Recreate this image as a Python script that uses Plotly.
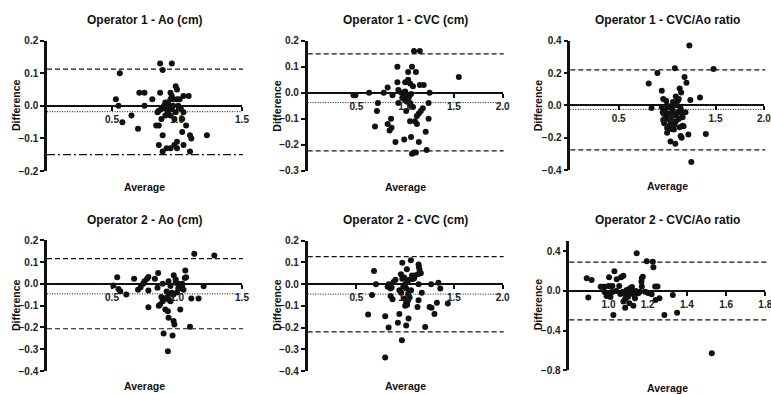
import plotly.graph_objects as go

# ---------------- data ----------------
titles = ["Operator 1 - Ao (cm)", "Operator 1 - CVC (cm)", "Operator 1 - CVC/Ao ratio",
          "Operator 2 - Ao (cm)", "Operator 2 - CVC (cm)", "Operator 2 - CVC/Ao ratio"]

p1_avg = [0.87, 0.96, 0.89, 0.56, 0.53, 0.55, 0.58, 0.65, 0.70, 0.71, 0.75, 0.75, 0.81, 0.87, 0.84, 0.86,
          0.89, 0.86, 0.89, 0.92, 0.95, 0.98, 1.0, 1.0, 1.05, 1.10, 1.10, 1.11, 1.23, 1.07, 1.04, 1.04,
          0.98, 0.88, 1.05, 1.09, 0.99, 1.0, 0.95, 0.96, 0.95, 0.97, 1.0, 0.91, 0.94, 0.88, 0.86, 0.92,
          0.96, 0.95, 1.03, 1.05, 0.90, 0.93, 0.97, 1.01, 0.93, 0.99, 0.85, 1.02, 0.91]
p1_diff = [0.13, 0.13, 0.11, 0.10, 0.02, 0.0, -0.05, -0.03, -0.07, 0.04, 0.04, 0.0, 0.02, 0.04, -0.06, -0.06,
           -0.09, -0.12, -0.14, -0.13, -0.13, -0.12, -0.11, -0.13, -0.12, -0.14, -0.09, -0.10, -0.09, -0.06, -0.08, -0.04,
           -0.04, -0.04, 0.03, 0.03, 0.06, 0.05, 0.04, 0.03, 0.02, 0.02, 0.02, 0.01, 0.0, -0.01, -0.015, -0.01,
           -0.01, -0.03, -0.01, -0.02, 0.0, 0.01, 0.0, 0.0, -0.02, -0.02, -0.02, 0.02, -0.03]

p2_avg = [1.09, 1.15, 1.55, 0.92, 1.07, 1.03, 1.11, 0.92, 1.0, 1.03, 1.05, 0.82, 0.93, 1.15, 1.19, 1.08,
          0.63, 0.78, 1.25, 0.47, 0.49, 0.87, 1.0, 0.99, 1.02, 1.03, 1.0, 1.02, 1.05, 0.93, 0.72, 1.01,
          0.71, 1.08, 1.24, 1.10, 1.12, 1.14, 1.16, 1.18, 1.24, 0.855, 0.82, 0.84, 0.86, 0.69, 1.05, 1.12,
          1.21, 0.90, 0.99, 1.06, 1.14, 1.22, 1.07, 1.09, 1.11, 0.96, 1.06, 1.04, 1.06, 0.97]
p2_diff = [0.16, 0.16, 0.06, 0.10, 0.10, 0.08, 0.08, 0.04, 0.04, 0.05, 0.035, 0.02, 0.01, 0.03, 0.03, 0.025,
           0.0, 0.0, 0.0, -0.01, -0.01, -0.01, 0.005, -0.01, -0.02, -0.025, -0.03, -0.035, -0.04, -0.04, -0.04, -0.07,
           -0.07, -0.055, -0.04, -0.11, -0.09, -0.08, -0.07, -0.06, -0.10, -0.10, -0.12, -0.145, -0.135, -0.13, -0.11, -0.12,
           -0.15, -0.19, -0.18, -0.17, -0.19, -0.22, -0.235, -0.23, -0.23, 0.0, -0.005, -0.015, -0.05, -0.02]

p3_avg = [1.23, 1.08, 1.48, 0.90, 0.81, 1.18, 1.20, 0.945, 1.13, 1.145, 1.34, 1.24, 0.84, 1.40, 1.22, 1.14,
          1.15, 1.035, 1.085, 1.25, 0.945, 0.98, 0.97, 1.0, 1.04, 1.075, 1.09, 1.14, 1.16, 1.19, 1.16, 1.13,
          1.17, 1.06, 1.02, 0.99, 1.09, 1.11, 1.07, 1.01, 1.04, 1.12, 0.955, 1.01, 0.96, 1.0, 1.05, 1.10,
          1.12, 1.03, 0.98, 1.05, 1.09, 1.03, 1.12, 1.06, 1.0, 1.07, 0.96, 1.15]
p3_diff = [0.37, 0.23, 0.225, 0.20, 0.135, 0.175, 0.14, 0.09, 0.105, 0.08, 0.048, 0.033, -0.016, -0.177, -0.18, -0.19,
           -0.20, -0.224, -0.238, -0.35, -0.012, -0.064, -0.11, -0.14, -0.146, -0.12, -0.06, -0.02, -0.074, -0.043, -0.126, -0.136,
           -0.13, -0.033, -0.012, 0.029, 0.054, 0.029, 0.008, -0.085, -0.095, -0.085, -0.043, -0.054, 0.04, 0.0, -0.02, 0.0,
           -0.04, -0.05, -0.03, -0.07, -0.10, -0.12, 0.04, 0.02, -0.17, -0.15, -0.09, -0.05]

p4_avg = [1.133, 1.287, 0.54, 0.51, 0.55, 0.564, 0.61, 0.67, 0.70, 0.72, 0.74, 0.75, 0.77, 0.78, 0.78, 0.78,
          0.83, 0.855, 0.85, 0.89, 0.975, 0.935, 0.99, 1.064, 1.06, 1.07, 1.01, 1.02, 1.03, 1.05, 1.01, 1.04,
          1.11, 1.166, 1.205, 1.10, 1.025, 0.88, 0.89, 0.87, 0.86, 0.92, 0.935, 0.95, 0.91, 0.93, 0.935, 0.974,
          0.98, 0.897, 0.966, 0.93, 0.96, 0.97, 0.94, 0.95, 1.0, 0.92, 0.99, 1.04]
p4_diff = [0.138, 0.13, 0.03, -0.008, -0.023, -0.034, -0.049, 0.023, -0.027, -0.015, 0.0, 0.012, 0.024, 0.032, -0.03, -0.107,
           0.023, 0.05, -0.018, 0.0, 0.04, 0.012, 0.02, 0.061, 0.027, 0.03, 0.0, -0.01, -0.02, -0.027, -0.02, 0.0,
           -0.067, -0.067, -0.011, -0.197, -0.118, -0.06, -0.08, -0.095, -0.10, -0.064, -0.072, -0.08, -0.118, -0.126, -0.156, -0.171,
           -0.187, -0.228, -0.237, -0.309, -0.041, -0.05, -0.045, -0.01, -0.04, -0.035, 0.005, -0.01]

p5_avg = [1.058, 0.97, 0.68, 1.137, 1.14, 1.147, 1.017, 0.956, 1.07, 1.10, 1.13, 1.16, 0.70, 0.66, 0.62, 0.795,
          0.83, 0.82, 0.83, 0.85, 0.86, 0.88, 0.90, 0.87, 0.85, 0.94, 0.94, 0.925, 1.01, 1.034, 0.966, 0.795,
          1.137, 1.266, 1.34, 1.36, 1.325, 1.27, 1.25, 1.30, 1.437, 1.205, 1.126, 1.137, 1.17, 1.06, 0.99, 1.01,
          1.0, 1.02, 1.03, 1.045, 1.03, 0.98, 1.0, 1.02, 1.04, 1.07, 1.09, 0.97, 0.99, 1.01, 0.96]
p5_diff = [0.11, 0.098, 0.06, 0.09, 0.08, 0.068, 0.068, 0.046, 0.04, 0.04, 0.045, 0.05, 0.0, -0.05, -0.14, -0.148,
           -0.2, -0.012, 0.0, -0.02, -0.015, 0.01, 0.02, -0.07, -0.055, -0.028, -0.138, -0.178, -0.19, -0.158, -0.258, -0.338,
           0.0, 0.0, 0.006, -0.02, -0.086, -0.109, -0.105, -0.138, -0.089, -0.197, -0.105, -0.074, -0.04, -0.028, -0.066, -0.086,
           -0.1, -0.095, -0.046, -0.06, -0.074, -0.012, 0.0, 0.01, 0.02, 0.022, 0.026, 0.025, 0.03, -0.02, -0.04]

p6_avg = [1.144, 1.195, 1.226, 1.229, 0.889, 0.914, 0.897, 1.003, 1.03, 1.042, 1.064, 1.076, 0.96, 0.97, 0.98, 1.0,
          1.01, 1.02, 0.99, 1.01, 1.025, 1.055, 1.073, 1.085, 1.093, 1.11, 1.118, 1.127, 1.11, 1.10, 1.085, 1.076,
          1.085, 1.106, 1.127, 1.135, 1.152, 1.16, 1.17, 1.17, 1.175, 1.168, 1.187, 1.2, 1.22, 1.238, 1.25, 1.26,
          1.24, 1.285, 1.328, 1.35, 1.527, 1.0, 1.04, 1.12, 1.14, 1.06, 1.13, 0.98, 1.02]
p6_diff = [0.38, 0.30, 0.295, 0.239, 0.128, 0.11, -0.067, 0.138, 0.20, 0.118, 0.138, 0.154, 0.043, 0.043, 0.043, 0.05,
           0.045, 0.05, -0.05, -0.06, -0.242, 0.05, -0.007, -0.033, 0.01, 0.027, 0.01, -0.007, -0.023, -0.057, -0.08, -0.107,
           -0.168, -0.124, -0.148, -0.074, -0.024, -0.007, 0.044, 0.128, 0.144, 0.094, -0.007, -0.017, -0.034, 0.044, 0.044, -0.074,
           -0.09, -0.242, -0.04, -0.219, -0.628, -0.02, 0.0, 0.04, 0.0, -0.03, -0.04, -0.01, -0.01]

averages = [p1_avg, p2_avg, p3_avg, p4_avg, p5_avg, p6_avg]
differences = [p1_diff, p2_diff, p3_diff, p4_diff, p5_diff, p6_diff]

bias = [-0.018, -0.038, -0.025, -0.046, -0.046, -0.003]
upper_loa = [0.113, 0.149, 0.219, 0.116, 0.127, 0.29]
lower_loa = [-0.150, -0.224, -0.276, -0.206, -0.220, -0.292]

x_ranges = [[0, 1.5], [0, 2.0], [0, 2.003], [0, 1.5], [0, 2.0], [0.8, 1.8]]
x_ticks = [[0.5, 1.0, 1.5], [0.5, 1.0, 1.5, 2.0], [0.5, 1.0, 1.5, 2.0],
           [0.5, 1.0, 1.5], [0.5, 1.0, 1.5, 2.0], [1.0, 1.2, 1.4, 1.6, 1.8]]
y_ranges = [[-0.2, 0.2], [-0.3, 0.2], [-0.4, 0.4], [-0.4, 0.2], [-0.4, 0.2], [-0.8, 0.5]]
y_ticks = [[-0.2, -0.1, 0.0, 0.1, 0.2], [-0.3, -0.2, -0.1, 0.0, 0.1, 0.2], [-0.4, -0.2, 0.0, 0.2, 0.4],
           [-0.4, -0.3, -0.2, -0.1, 0.0, 0.1, 0.2], [-0.4, -0.3, -0.2, -0.1, 0.0, 0.1, 0.2],
           [-0.8, -0.4, 0.0, 0.4]]

# ---------------- layout geometry (pixels) ----------------
W, H = 771, 394
boxes = [(47, 242, 40.7, 171), (307.7, 502.7, 40.7, 170.7), (570.3, 764.2, 40.7, 170),
         (47, 242, 240.3, 371), (307.7, 502.7, 240.7, 371), (569.3, 765.3, 241.4, 370.3)]
title_y = [20, 20, 20, 220, 220, 220]
ytitle_x = [16, 276.7, 538.3, 16, 276.7, 538.3]
ytitle_y = [105, 106, 105, 305, 305, 304]
avg_y = [187, 187, 186, 385.5, 385.5, 388]

FONT = "Arial, Liberation Sans, Helvetica, sans-serif"
INK = "#111111"


def px(X):
    return X / W


def py(Y):
    return 1 - Y / H


fig = go.Figure()
layout = dict(width=W, height=H, margin=dict(l=0, r=0, t=0, b=0, autoexpand=False),
              paper_bgcolor="white", plot_bgcolor="white", showlegend=False,
              font=dict(family=FONT, color=INK))
annotations = []
shapes = []

for i in range(6):
    n = "" if i == 0 else str(i + 1)
    l, r, t, b = boxes[i]
    xd = [px(l), px(r)]
    yd = [py(b), py(t)]
    y0, y1 = y_ranges[i]
    xpos = yd[0] + (0 - y0) / (y1 - y0) * (yd[1] - yd[0])

    fig.add_trace(go.Scatter(x=averages[i], y=differences[i], mode="markers",
                             marker=dict(size=6, color=INK),
                             xaxis="x" + n, yaxis="y" + n, hoverinfo="x+y"))

    layout["xaxis" + n] = dict(domain=xd, range=x_ranges[i], anchor="free", position=xpos,
                               automargin=False, ticklabeloverflow="allow",
                               showline=True, linecolor=INK, linewidth=2, showgrid=False,
                               zeroline=False, ticks="outside", ticklen=4, tickwidth=1.5,
                               tickcolor=INK, tickvals=x_ticks[i], tickformat=".1f",
                               tickfont=dict(size=10, family=FONT, weight="bold", color="#222"))
    layout["yaxis" + n] = dict(domain=yd, range=[y0, y1], anchor="x" + n, automargin=False,
                               ticklabeloverflow="allow",
                               showline=True, linecolor=INK, linewidth=2.5, showgrid=False,
                               zeroline=False, ticks="outside", ticklen=4, tickwidth=2,
                               tickcolor=INK, tickvals=y_ticks[i], tickformat=".1f",
                               tickfont=dict(size=10, family=FONT, weight="bold", color="#222"))

    xref = "x" + n + " domain"
    yref = "y" + n
    lower_dash = "8px,3px,2px,3px" if i == 0 else "5px,3px"
    shapes.append(dict(type="line", xref=xref, yref=yref, x0=0, x1=1.005,
                       y0=upper_loa[i], y1=upper_loa[i], line=dict(color=INK, width=1.2, dash="5px,3px")))
    shapes.append(dict(type="line", xref=xref, yref=yref, x0=0, x1=1.005,
                       y0=lower_loa[i], y1=lower_loa[i], line=dict(color=INK, width=1.2, dash=lower_dash)))
    shapes.append(dict(type="line", xref=xref, yref=yref, x0=0, x1=1.0,
                       y0=bias[i], y1=bias[i], line=dict(color=INK, width=1, dash="1px,1.5px")))

    cx = (xd[0] + xd[1]) / 2
    annotations.append(dict(text=titles[i], x=cx, y=py(title_y[i]), xref="paper", yref="paper",
                            showarrow=False, xanchor="center", yanchor="middle",
                            font=dict(size=12, family=FONT, weight="bold", color=INK)))
    annotations.append(dict(text="Difference", x=px(ytitle_x[i]), y=py(ytitle_y[i]), xref="paper",
                            yref="paper", showarrow=False, textangle=-90, xanchor="center",
                            yanchor="middle", font=dict(size=10.5, family=FONT, weight="bold", color=INK)))
    annotations.append(dict(text="Average", x=cx, y=py(avg_y[i]), xref="paper", yref="paper",
                            showarrow=False, xanchor="center", yanchor="middle",
                            font=dict(size=10.5, family=FONT, weight="bold", color=INK)))

layout["annotations"] = annotations
layout["shapes"] = shapes
fig.update_layout(**layout)
fig.write_html("out.html",
               config={"displayModeBar": False},
               post_script="document.body.style.margin='0px';document.body.style.overflow='hidden';"
                           "var g=document.getElementById('{plot_id}');"
                           "g.style.position='fixed';g.style.left='0px';g.style.top='0px';")
